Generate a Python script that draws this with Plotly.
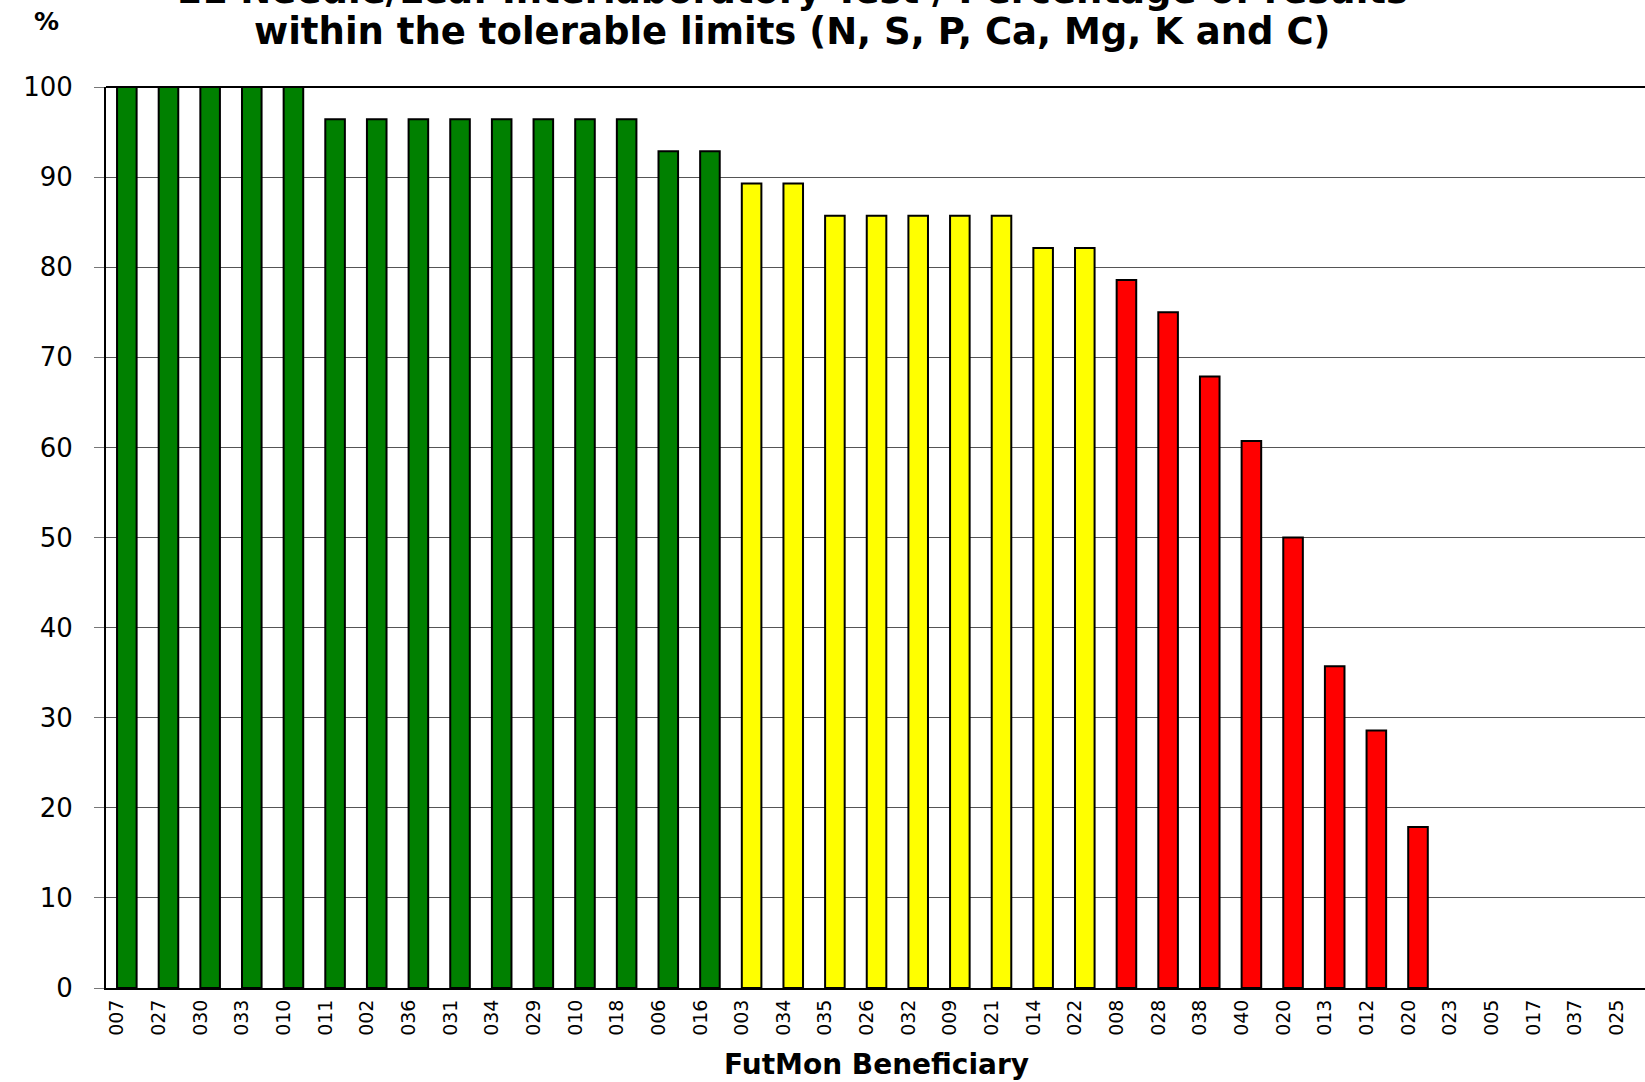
import plotly.graph_objects as go

# ---------------- data ----------------
labels = ["007", "027", "030", "033", "010", "011", "002", "036", "031", "034",
          "029", "010", "018", "006", "016", "003", "034", "035", "026", "032",
          "009", "021", "014", "022", "008", "028", "038", "040", "020", "013",
          "012", "020", "023", "005", "017", "037", "025"]
values = [100, 100, 100, 100, 100, 96.43, 96.43, 96.43, 96.43, 96.43,
          96.43, 96.43, 96.43, 92.86, 92.86, 89.29, 89.29, 85.71, 85.71, 85.71,
          85.71, 85.71, 82.14, 82.14, 78.57, 75.0, 67.86, 60.71, 50.0, 35.71,
          28.57, 17.86, 0, 0, 0, 0, 0]
y_ticks = [0, 10, 20, 30, 40, 50, 60, 70, 80, 90, 100]
title_line1 = "11 Needle/Leaf Interlaboratory Test / Percentage of results"
title_line2 = "within the tolerable limits (N, S, P, Ca, Mg, K and C)"
x_title = "FutMon Beneficiary"
y_title = "%"

# ---------------- styling ----------------
W, H = 1645, 1082
ML, MR, MT, MB = 106, 0, 87, 94
PW, PH = W - ML - MR, H - MT - MB


def px_x(p):
    return (p - ML) / PW


def px_y(p):
    return (H - MB - p) / PH


def bar_color(v):
    if v >= 90:
        return "#008000"
    if v >= 80:
        return "#FFFF00"
    return "#FF0000"


n = len(labels)
x_pos = list(range(n))
colors = [bar_color(v) for v in values]
line_widths = [2 if v > 0 else 0 for v in values]
x_range = [-0.5, 36.45]

fig = go.Figure()
fig.add_trace(go.Bar(
    x=x_pos, y=values, width=0.47,
    marker=dict(color=colors, line=dict(color="black", width=line_widths)),
    showlegend=False, hoverinfo="x+y",
))

fig.update_layout(
    width=W, height=H,
    margin=dict(l=ML, r=MR, t=MT, b=MB, pad=0),
    paper_bgcolor="white", plot_bgcolor="white",
    xaxis=dict(
        range=x_range, showgrid=False, zeroline=False,
        tickmode="array",
        tickvals=[i - 0.23 for i in x_pos], ticktext=labels,
        tickangle=-90, ticks="", ticklabelstandoff=2,
        tickfont=dict(family="DejaVu Sans", size=19, color="black"),
        showline=True, linecolor="black", linewidth=2,
    ),
    xaxis2=dict(
        overlaying="x", anchor="y", side="bottom", range=x_range,
        showgrid=False, zeroline=False, showline=False,
        tickmode="array", tickvals=[i - 0.5 for i in range(n + 1)],
        ticks="outside", ticklen=8, tickwidth=1, tickcolor="#333",
        showticklabels=False,
    ),
    yaxis=dict(
        range=[0, 100], tickmode="array", tickvals=y_ticks,
        showgrid=True, gridcolor="#555", gridwidth=1,
        zeroline=False, showline=True, linecolor="black", linewidth=2,
        ticks="outside", ticklen=10, tickwidth=1, tickcolor="#777",
        ticklabelstandoff=16,
        tickfont=dict(family="DejaVu Sans", size=26, color="black"),
    ),
    shapes=[dict(type="line", xref="paper", yref="paper", x0=0, x1=1, y0=1, y1=1,
                 line=dict(color="black", width=2))],
    annotations=[
        dict(text="<b>" + title_line1 + "</b>", xref="paper", yref="paper",
             x=px_x(792), y=px_y(-10), xanchor="center", yanchor="middle",
             showarrow=False, font=dict(family="DejaVu Sans", size=37, color="black")),
        dict(text="<b>" + title_line2 + "</b>", xref="paper", yref="paper",
             x=px_x(792), y=px_y(32), xanchor="center", yanchor="middle",
             showarrow=False, font=dict(family="DejaVu Sans", size=37, color="black")),
        dict(text="<b>" + y_title + "</b>", xref="paper", yref="paper",
             x=px_x(46), y=px_y(21), xanchor="center", yanchor="middle",
             showarrow=False, font=dict(family="DejaVu Sans", size=25, color="black")),
        dict(text="<b>" + x_title + "</b>", xref="paper", yref="paper",
             x=px_x(876), y=px_y(1064), xanchor="center", yanchor="middle",
             showarrow=False, font=dict(family="DejaVu Sans", size=28, color="black")),
    ],
)

fig.write_html("out.html", config={"displayModeBar": False},
               post_script="document.body.style.margin='0px';")
